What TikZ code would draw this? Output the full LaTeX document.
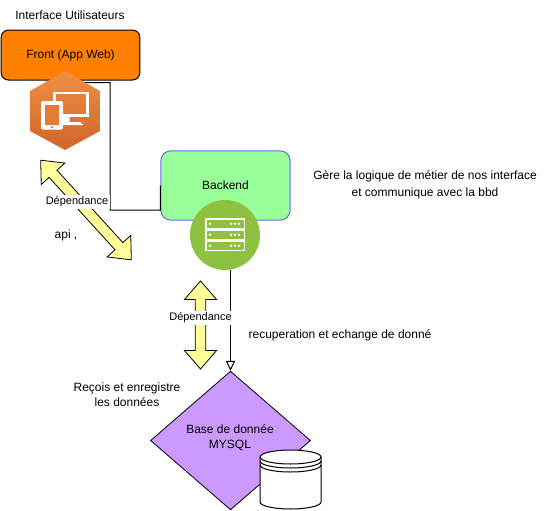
\documentclass[tikz,border=0pt]{standalone}
\usepackage{fontspec}
\setmainfont{Liberation Sans}
\usetikzlibrary{arrows.meta,shapes.arrows,shapes.geometric}
\definecolor{frontorange}{HTML}{FF8000}
\definecolor{backgreen}{HTML}{99FF99}
\definecolor{backblue}{HTML}{6666FF}
\definecolor{srvgreen}{HTML}{8DC13F}
\definecolor{basepurple}{HTML}{CC99FF}
\definecolor{linkyellow}{HTML}{FFFF99}
\definecolor{hextop}{HTML}{F08E45}
\definecolor{hexbottom}{HTML}{D0652A}
\definecolor{hexmid}{HTML}{E47B38}
\tikzset{
	every node/.style={font=\fontsize{9}{11}\selectfont, align=center},
	linkarrow/.style={double arrow, draw, line width=0.6pt, fill=linkyellow, inner sep=0pt,
		inner ysep=3.7pt, minimum width=23.5pt, double arrow head extend=8pt, double arrow tip angle=82},
	linklabel/.style={fill=white, inner sep=1pt, font=\fontsize{8.25}{10}\selectfont},
}
\begin{document}
\begin{tikzpicture}[x=0.75pt,y=-0.75pt]
	\useasboundingbox (0,0) rectangle (551,511);

	% boxes
	\node[draw, line width=0.75pt, rounded corners=5.5pt, fill=frontorange, minimum width=104pt, minimum height=37.5pt, text height=7pt] (front) at (70.5,55) {Front (App Web)};
	\node[draw=backblue, line width=0.75pt, rounded corners=7.5pt, fill=backgreen, minimum width=97pt, minimum height=52pt] (back) at (225.5,185.5) {Backend};
	\node[diamond, draw, line width=0.6pt, fill=basepurple, inner sep=0pt, minimum width=120pt, minimum height=104pt] (base) at (230.5,440.5) {};
	\node (basetext) at (230,437.5) {Base de donnée\\MYSQL};

	% connectors
	\coordinate (frontout) at (80,82.5);
	\draw[line width=0.75pt] (frontout) -- (110,82.5) -- (110,210) -- (160.5,210) -- (back.west);

	% hexagon with screen and tablet
	\shade[top color=hextop, bottom color=hexbottom] (65,71) -- (100,91) -- (100,131) -- (65,150) -- (30,131) -- (30,91) -- cycle;
	\draw[white, line width=2pt] (54.5,93) rectangle (87.7,115.5);
	\fill[white] (63,116) rectangle (69.5,122) (63,122) -- (80,122) -- (83.5,125) -- (63,125) -- cycle;
	\fill[white, rounded corners=1.5pt] (41,101) rectangle (63,129.5);
	\fill[hexmid] (45,105) rectangle (59,125) (51.8,127.2) circle (1pt);

	% server
	\node[circle, fill=srvgreen, minimum size=52.5pt, inner sep=0pt] (srv) at (225,235) {};
	\foreach \y in {219,230,241} {
		\draw[white, line width=0.9pt] (206,\y) rectangle (244.5,\y+9.5);
		\fill[white] (210,\y+4.75) circle (1.1pt);
		\foreach \x in {231,235,239}
			\fill[white] (\x,\y+4.75) circle (1.1pt);
	}
	\draw[line width=0.75pt, -{Triangle[open,fill=white,length=7.5pt,width=7pt]}] (srv.south -| base.north) -- (base.north);

	% cylinder
	\draw[line width=0.75pt, fill=white] (260,457) -- (260,502) arc[start angle=180, end angle=0, x radius=30.5, y radius=7] -- (321,457)
		arc[start angle=0, end angle=-180, x radius=30.5, y radius=7];
	\draw[line width=0.75pt] (260,457) arc[start angle=180, end angle=0, x radius=30.5, y radius=7]
		(260,461) arc[start angle=180, end angle=0, x radius=30.5, y radius=7]
		(260,465) arc[start angle=180, end angle=0, x radius=30.5, y radius=7];

	% double arrows
	\node[linkarrow, minimum height=101pt, rotate=-47.7] (linkapi) at (86,210) {};
	\node[linkarrow, minimum height=66pt, rotate=90] (linkbase) at (200.5,325) {};
	\node[linklabel] (depapi) at (77,202) {Dépendance};
	\node[linklabel] (depbase) at (200.5,318) {Dépendance};

	% free labels
	\node (ui) at (70,15) {Interface Utilisateurs};
	\node (api) at (66,235) {api ,};
	\node (logic) at (425,184.5) {Gère la logique de métier de nos interface\\[1.5pt]et communique avec la bbd};
	\node (echange) at (340,335) {recuperation et echange de donné};
	\node (recois) at (127,395) {Reçois et enregistre\\les données};
\end{tikzpicture}
\end{document}
